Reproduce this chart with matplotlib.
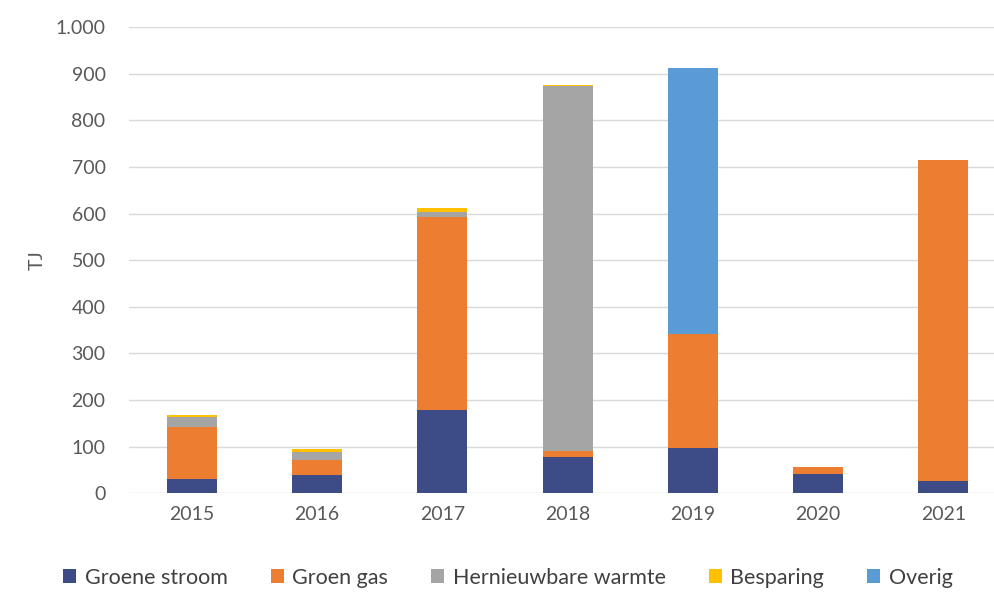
import matplotlib.pyplot as plt
import numpy as np
from matplotlib.ticker import FuncFormatter

years = ["2015", "2016", "2017", "2018", "2019", "2020", "2021"]
groene_stroom = [31, 39, 178, 77, 97, 42, 26]
groen_gas = [110, 33, 414, 14, 244, 14, 689]
hernieuwbare_warmte = [23, 16, 12, 782, 0, 0, 0]
besparing = [3, 6, 7, 3, 0, 0, 0]
overig = [0, 0, 0, 0, 571, 0, 0]

series = [
    ("Groene stroom", groene_stroom, "#3d4b87"),
    ("Groen gas", groen_gas, "#ed7d31"),
    ("Hernieuwbare warmte", hernieuwbare_warmte, "#a5a5a5"),
    ("Besparing", besparing, "#ffc000"),
    ("Overig", overig, "#5b9bd5"),
]

plt.rcParams['font.family'] = ['Lato', 'DejaVu Sans']

fig = plt.figure(figsize=(9.94, 5.92), dpi=100)
ax = fig.add_axes([0.13, 0.167, 0.882, 0.787])

x = np.arange(len(years))
bottom = np.zeros(len(years))
for name, vals, col in series:
    ax.bar(x, vals, width=0.4, bottom=bottom, color=col, label=name, zorder=3)
    bottom += np.array(vals)

ax.set_ylim(0, 1000)
ax.set_xlim(-0.5, len(years) - 0.5)
ax.set_yticks(range(0, 1001, 100))
ax.yaxis.set_major_formatter(FuncFormatter(lambda v, p: f"{int(v):,}".replace(",", ".")))
ax.set_xticks(x)
ax.set_xticklabels(years)
ax.grid(axis='y', color='#d9d9d9', linewidth=1, zorder=0)
for s in ax.spines.values():
    s.set_visible(False)
ax.tick_params(axis='both', length=0, labelsize=14, colors='#595959', pad=9)
ax.tick_params(axis='y', pad=17)
ax.set_ylabel("TJ", fontsize=14, color='#595959', labelpad=7)

fig.legend(*ax.get_legend_handles_labels(), loc='center', bbox_to_anchor=(0.511, 0.024),
           ncol=5, frameon=False, fontsize=15.5, handlelength=0.6, handleheight=0.6,
           columnspacing=2.0, handletextpad=0.4, labelcolor='#404040')

fig.savefig("out.png", dpi=100)
